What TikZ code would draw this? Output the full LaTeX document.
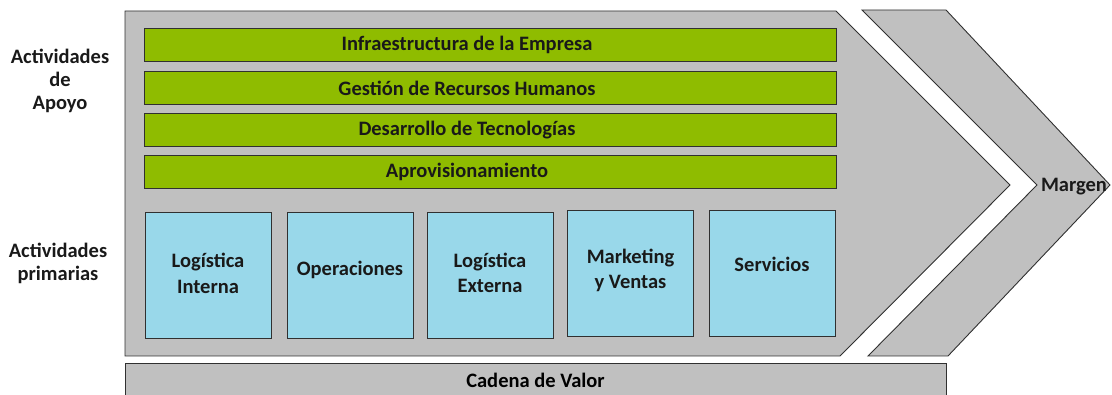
\documentclass[tikz,border=0pt]{standalone}
\usepackage{fontspec}
\setmainfont{Carlito}
\definecolor{cadgray}{HTML}{C0C0C0}
\definecolor{apoyo}{HTML}{8FBC00}
\definecolor{primaria}{HTML}{99D8EA}
\definecolor{borde}{HTML}{303030}
\begin{document}
\begin{tikzpicture}[x=1pt, y=-1pt, font=\fontsize{20.5}{23}\selectfont\bfseries,
	lbl/.style = {align=center, text=black!90},
	shell/.style = {fill=cadgray, draw=borde, line width=0.9pt},
	bar/.style = {draw=borde, fill=apoyo, line width=0.9pt, minimum width=692pt, minimum height=33pt, inner sep=0pt,
		label={[lbl, xshift=-23pt]center:#1}},
	act/.style = {draw=borde, fill=primaria, line width=0.9pt, minimum width=126pt, minimum height=126pt, inner sep=0pt}]
	\useasboundingbox (0,0) rectangle (1112,395);
	% flechas de fondo
	\draw[shell] (125,11) -- (836,11) -- (1010,185) -- (840,356) -- (125,356) -- cycle;
	\draw[shell] (862,10) -- (946,10) -- (1110,185) -- (948,356) -- (868,356) -- (1037,185) -- cycle;
	
	\node[shell, minimum width=821pt, minimum height=33pt, inner sep=0pt] (cadena) at (535.5,380) {Cadena de Valor};
	
	\node[bar={Infraestructura de la Empresa}] (infra) at (490,45) {};
	\node[bar={Gestión de Recursos Humanos}] (rrhh) at (490,88) {};
	\node[bar={Desarrollo de Tecnologías}] (tec) at (490,130) {};
	\node[bar={Aprovisionamiento}] (aprov) at (490,172) {};
	
	\node[act] (li) at (208,275) {};
	\node[act] (op) at (350,275) {};
	\node[act] (le) at (490,275) {};
	\node[act] (mv) at (630.5,273.5) {};
	\node[act] (serv) at (772,273.5) {};
	\node[lbl, yshift=2pt] at (li) {Logística\\[3pt]Interna};
	\node[lbl, yshift=5pt] at (op) {Operaciones};
	\node[lbl, yshift=2pt] at (le) {Logística\\[2pt]Externa};
	\node[lbl, yshift=3pt] at (mv) {Marketing\\[2pt]y Ventas};
	\node[lbl, yshift=9pt] at (serv) {Servicios};
	
	\node[lbl] (apoyo) at (60,81) {Actividades\\de\\Apoyo};
	\node[lbl] (prim) at (58,263) {Actividades\\primarias};
	\node[lbl] (margen) at (1074,187) {Margen};
\end{tikzpicture}
\end{document}
